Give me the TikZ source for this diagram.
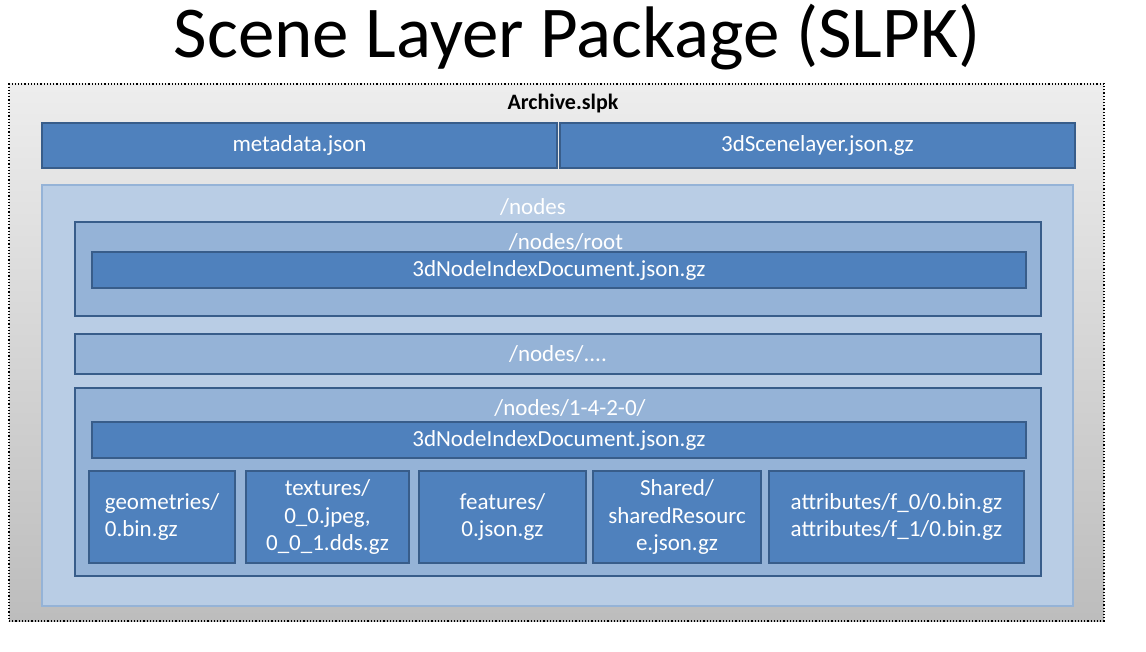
\documentclass[tikz,border=0pt]{standalone}
\usepackage{fontspec}
\setmainfont{Carlito}
\definecolor{boxfill}{HTML}{4F81BD}
\definecolor{boxline}{HTML}{385D8A}
\definecolor{dirfill}{HTML}{95B3D7}
\definecolor{topfill}{HTML}{B9CDE5}
\begin{document}
\begin{tikzpicture}[x=1pt,y=-1pt,font=\fontsize{23}{27.5}\selectfont,
    file/.style={draw=boxline,line width=2.5pt,fill=boxfill,text=white,
      inner sep=0pt,align=center},
    folder/.style={draw=boxline,line width=2.5pt,fill=dirfill,inner sep=0pt},
    label/.style={text=white,inner sep=0pt}]
  \useasboundingbox (0,0) rectangle (1146,652);
  \node (title) at (577,37) {\fontsize{73}{77}\selectfont Scene Layer Package (SLPK)};
  % archive
  \node[draw=black,dotted,line width=1.2pt,top color=black!7,bottom color=black!26,
    minimum width=1095pt,minimum height=537pt] (archive) at (556.5,352.5) {};
  \node[font=\fontsize{22}{26}\selectfont\bfseries] (archivename) at (563,104) {Archive.slpk};
  \node[file,minimum width=515pt,minimum height=45pt] (meta) at (299.5,145.5) {metadata.json};
  \node[file,minimum width=515pt,minimum height=45pt] (scene) at (817.5,145.5) {3dScenelayer.json.gz};
  % nodes folder
  \node[draw=dirfill,line width=2.5pt,fill=topfill,minimum width=1031pt,
    minimum height=421pt] (nodes) at (557.5,395.5) {};
  \node[label] (nodesname) at (533,207) {/nodes};
  \node[folder,minimum width=966pt,minimum height=94pt] (root) at (558,269) {};
  \node[label] (rootname) at (566,242) {/nodes/root};
  \node[file,minimum width=934pt,minimum height=36pt] (rootindex) at (559,270) {3dNodeIndexDocument.json.gz};
  \node[folder,minimum width=966pt,minimum height=40pt,text=white] (more) at (558,354) {/nodes/....};
  \node[folder,minimum width=966pt,minimum height=188pt] (leaf) at (558,482) {};
  \node[label] (leafname) at (570,408) {/nodes/1-4-2-0/};
  \node[file,minimum width=934pt,minimum height=36pt] (leafindex) at (559,440) {3dNodeIndexDocument.json.gz};
  % resources
  \node[file,minimum width=146pt,minimum height=92pt,align=left] (geom) at (162,517) {geometries/\\0.bin.gz};
  \node[file,minimum width=163pt,minimum height=92pt] (tex) at (327.5,517) {textures/\\0\_0.jpeg,\\0\_0\_1.dds.gz};
  \node[file,minimum width=167pt,minimum height=92pt] (feat) at (502.5,517) {features/\\0.json.gz};
  \node[file,minimum width=168pt,minimum height=92pt] (shared) at (677,517) {Shared/\\sharedResourc\\e.json.gz};
  \node[file,minimum width=255pt,minimum height=92pt,align=left] (attr) at (896.5,517) {attributes/f\_0/0.bin.gz\\attributes/f\_1/0.bin.gz};
\end{tikzpicture}
\end{document}
